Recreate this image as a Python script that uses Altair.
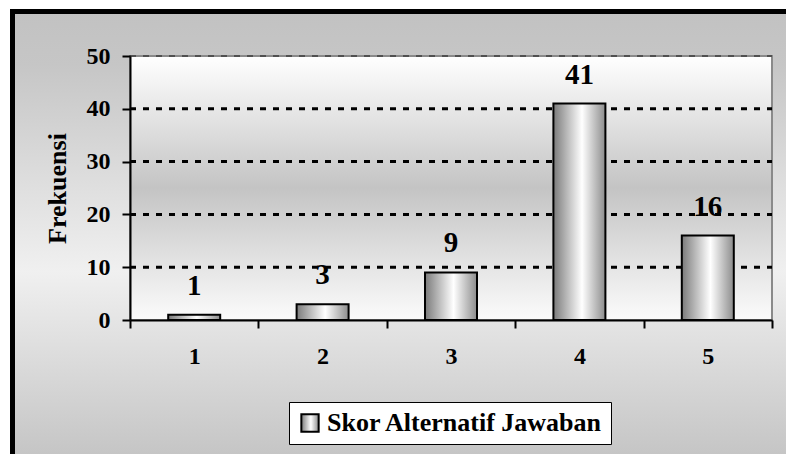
import altair as alt
import pandas as pd

# ---- data ----
categories = ["1", "2", "3", "4", "5"]
values = [1, 3, 9, 41, 16]
series_name = "Skor Alternatif Jawaban"
grid_values = [10, 20, 30, 40]
y_ticks = [0, 10, 20, 30, 40, 50]

FONT = "Liberation Serif"
W, H = 642, 264

df = pd.DataFrame({"skor": categories, "frekuensi": values,
                   "series": [series_name] * len(categories)})
grid_df = pd.DataFrame({"frekuensi": grid_values})
one = pd.DataFrame({"a": [0]})

outer_grad = alt.LinearGradient(
    gradient="linear",
    stops=[alt.GradientStop(color="#c2c2c2", offset=0),
           alt.GradientStop(color="#c6c6c6", offset=0.12),
           alt.GradientStop(color="#f0f0f0", offset=0.58),
           alt.GradientStop(color="#c4c4c4", offset=1)],
    x1=0, x2=0, y1=0, y2=1)

plot_grad = alt.LinearGradient(
    gradient="linear",
    stops=[alt.GradientStop(color="#ffffff", offset=0),
           alt.GradientStop(color="#c4c4c4", offset=0.5),
           alt.GradientStop(color="#fbfbfb", offset=1)],
    x1=0, x2=0, y1=0, y2=1)

bar_grad = alt.LinearGradient(
    gradient="linear",
    stops=[alt.GradientStop(color="#7a7a7a", offset=0),
           alt.GradientStop(color="#ffffff", offset=0.55),
           alt.GradientStop(color="#8c8c8c", offset=1)],
    x1=0, x2=1, y1=0, y2=0)

y_scale = alt.Scale(domain=[0, 50], nice=False, zero=True)

x_axis = alt.Axis(title=None, labelAngle=0, labelFont=FONT, labelFontSize=24,
                  labelFontWeight="bold", labelColor="black",
                  domainColor="black", domainWidth=2,
                  tickColor="black", tickWidth=2, tickSize=8,
                  tickBand="extent", labelPadding=16, grid=False, zindex=1)

y_axis = alt.Axis(title="Frekuensi", values=y_ticks, titleFont=FONT,
                  titleFontSize=26, titleFontWeight="bold", titleColor="black",
                  titlePadding=16, labelFont=FONT, labelFontSize=24,
                  labelFontWeight="bold", labelColor="black", labelPadding=12,
                  domainColor="black", domainWidth=2, tickColor="black",
                  tickWidth=2, tickSize=8, grid=False, zindex=1)

x_enc = alt.X("skor:N", sort=categories,
              scale=alt.Scale(paddingInner=0, paddingOuter=0), axis=x_axis)
y_enc = alt.Y("frekuensi:Q", scale=y_scale, axis=y_axis)

bg = alt.Chart(one).mark_rect(fill=outer_grad, stroke="black", strokeWidth=5).encode(
    x=alt.value(-117.5), x2=alt.value(W + 60), y=alt.value(-44.5), y2=alt.value(H + 140))

plotbg = alt.Chart(one).mark_rect(fill=plot_grad, stroke="#8a8a8a", strokeWidth=2).encode(
    x=alt.value(0), x2=alt.value(W), y=alt.value(0), y2=alt.value(H))

top_line = alt.Chart(one).mark_rule(color="#505050", strokeWidth=2, strokeDash=[6, 7]).encode(
    y=alt.datum(50, scale=y_scale, axis=y_axis), x=alt.value(0), x2=alt.value(W))

grid = alt.Chart(grid_df).mark_rule(color="black", strokeWidth=3, strokeDash=[6, 7]).encode(
    y=y_enc, x=alt.value(0), x2=alt.value(W))

base = alt.Chart(df)

bars = base.mark_bar(size=52, color=bar_grad, strokeWidth=2).encode(
    x=x_enc, y=y_enc,
    stroke=alt.Stroke("series:N", scale=alt.Scale(range=["black"]),
                      legend=alt.Legend(
                          title=None, orient="none", legendX=159, legendY=346,
                          direction="horizontal",
                          labelFont=FONT, labelFontSize=26, labelFontWeight="bold",
                          labelColor="black", labelOffset=4, labelLimit=400,
                          symbolType="square", symbolSize=300,
                          symbolStrokeWidth=2, symbolStrokeColor="black",
                          symbolFillColor="#e0e0e0",
                          padding=8, fillColor="white", strokeColor="black",
                          zindex=2)))

labels = base.mark_text(dy=-20, baseline="alphabetic", font=FONT, fontSize=29,
                        fontWeight="bold", color="black").encode(
    x=x_enc, y=y_enc, text="frekuensi:Q")

chart = alt.layer(bg, plotbg, grid, top_line, bars, labels).properties(
    width=W, height=H,
    padding={"left": 130, "top": 56, "right": 14, "bottom": 134},
    autosize="none",
    background="white",
).configure_view(stroke=None).configure_legend(
    labelFont=FONT, labelFontSize=26, labelFontWeight="bold"
).configure(font=FONT)

chart.save("out.html", embed_options={"renderer": "svg", "actions": False})
